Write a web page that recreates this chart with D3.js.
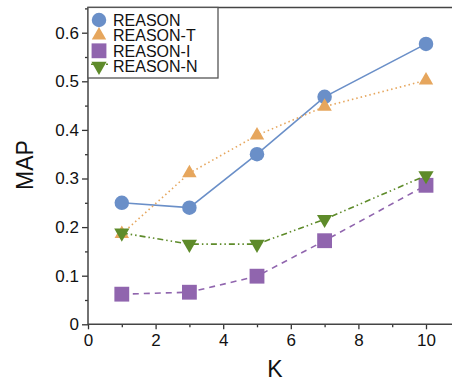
<!DOCTYPE html>
<html>
<head>
<meta charset="utf-8">
<script src="https://cdn.jsdelivr.net/npm/d3@7"></script>
<style>
  body { margin: 0; background: #fff; }
  svg { font-family: "Liberation Sans", Arial, sans-serif; }
</style>
</head>
<body>
<div id="chart"></div>
<script>
// data
var kValues = [1, 3, 5, 7, 10];
var seriesNames = ["REASON", "REASON-T", "REASON-I", "REASON-N"];
var reason  = [0.250, 0.240, 0.350, 0.468, 0.577];
var reasonT = [0.186, 0.311, 0.389, 0.448, 0.502];
var reasonI = [0.062, 0.066, 0.099, 0.172, 0.286];
var reasonN = [0.188, 0.165, 0.165, 0.216, 0.306];
var xTicks = [0, 2, 4, 6, 8, 10];
var yTicks = [0, 0.1, 0.2, 0.3, 0.4, 0.5, 0.6];

var width = 452, height = 381;
var svg = d3.select("#chart").append("svg").attr("width", width).attr("height", height);

var x = d3.scaleLinear().domain([0, 10]).range([88, 426]);
var y = d3.scaleLinear().domain([0, 0.6]).range([324.3, 32.7]);
var yTop = y(0.652);

var styles = [
  {data: reason,  color: "#6a8fc8", dash: null,          shape: d3.symbolCircle,   size: 165, rot: 0},
  {data: reasonT, color: "#e6a65d", dash: "1.5,3",       shape: d3.symbolTriangle, size: 90,  rot: 0},
  {data: reasonI, color: "#9065ae", dash: "6,5",         shape: d3.symbolSquare,   size: 220, rot: 0},
  {data: reasonN, color: "#5e8b2a", dash: "6,3,1.5,3,1.5,3", shape: d3.symbolTriangle, size: 100, rot: 180}
];

var line = d3.line()
  .x(function(d, i) { return x(kValues[i]); })
  .y(function(d) { return y(d); });

// axes
var yAxis = d3.axisLeft(y).tickValues(yTicks).tickSize(6).tickPadding(3)
  .tickFormat(function(d) { return d === 0 ? "0" : d3.format(".1f")(d); });
var yMinor = d3.axisLeft(y).tickValues([0.05, 0.15, 0.25, 0.35, 0.45, 0.55, 0.65]).tickSize(3).tickFormat("");
var xAxis = d3.axisBottom(x).tickValues(xTicks).tickSize(5).tickPadding(5);
var xMinor = d3.axisBottom(x).tickValues([1, 3, 5, 7, 9]).tickSize(3).tickFormat("");

function styleAxis(g) {
  g.select(".domain").remove();
  g.selectAll("line").attr("stroke", "#333").attr("stroke-width", 1.3);
  g.selectAll("text").attr("fill", "#111").style("font-size", "17px");
}

svg.append("g").attr("transform", "translate(88,0)").call(yAxis).call(styleAxis);
svg.append("g").attr("transform", "translate(88,0)").call(yMinor).call(styleAxis);
svg.append("g").attr("transform", "translate(0,324.3)").call(xAxis).call(styleAxis);
svg.append("g").attr("transform", "translate(0,324.3)").call(xMinor).call(styleAxis);

// frame
svg.append("path")
  .attr("d", "M" + width + "," + yTop + "H88V324.3H" + width)
  .attr("fill", "none").attr("stroke", "#444").attr("stroke-width", 1.5);

// lines and markers
styles.forEach(function(s) {
  svg.append("path")
    .attr("d", line(s.data))
    .attr("fill", "none")
    .attr("stroke", s.color)
    .attr("stroke-width", 1.6)
    .attr("stroke-dasharray", s.dash);
  svg.selectAll(null).data(s.data).enter().append("path")
    .attr("d", d3.symbol().type(s.shape).size(s.size))
    .attr("transform", function(d, i) {
      return "translate(" + x(kValues[i]) + "," + y(d) + ") rotate(" + s.rot + ")";
    })
    .attr("fill", s.color);
});

// legend
var legend = svg.append("g");
legend.append("rect")
  .attr("x", 88).attr("y", yTop).attr("width", 130).attr("height", 78 - yTop)
  .attr("fill", "#fff").attr("stroke", "#555").attr("stroke-width", 1.3);
styles.forEach(function(s, i) {
  var ly = 20 + i * 15.4;
  if (i === 3) {
    legend.append("line").attr("x1", 91).attr("x2", 108).attr("y1", ly - 2).attr("y2", ly - 2)
      .attr("stroke", s.color).attr("stroke-width", 1.6).attr("stroke-dasharray", "3,2");
  }
  legend.append("path")
    .attr("d", d3.symbol().type(s.shape).size(s.size))
    .attr("transform", "translate(99," + ly + ") rotate(" + s.rot + ")")
    .attr("fill", s.color);
  legend.append("text")
    .attr("x", 113).attr("y", ly + 6)
    .style("font-size", "16px").attr("fill", "#111")
    .text(seriesNames[i]);
});

// axis titles
svg.append("text")
  .attr("transform", "translate(33,165) rotate(-90)")
  .attr("text-anchor", "middle")
  .style("font-size", "23px").attr("fill", "#111")
  .text("MAP");
svg.append("text")
  .attr("x", 275).attr("y", 377)
  .attr("text-anchor", "middle")
  .style("font-size", "23px").attr("fill", "#111")
  .text("K");
</script>
</body>
</html>
